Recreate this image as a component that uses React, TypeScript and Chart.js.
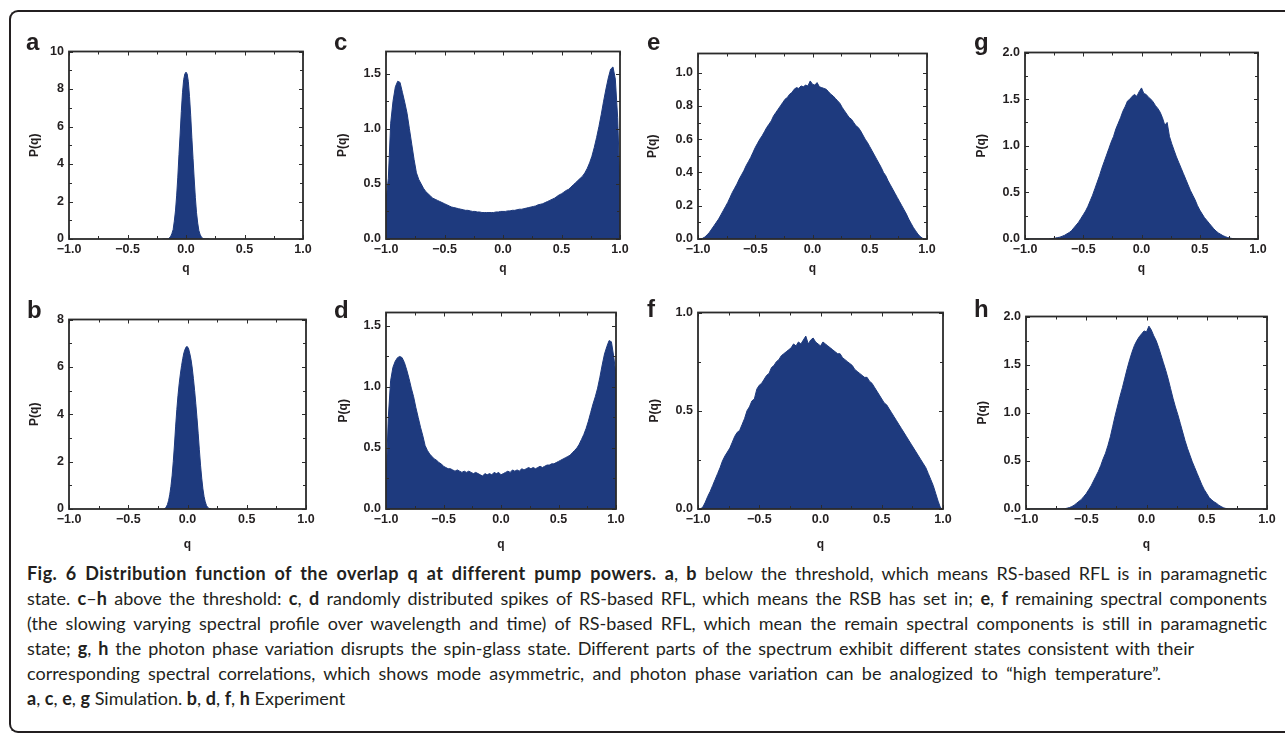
import React, { useEffect, useRef } from 'react';
import { Chart, registerables } from 'chart.js';

Chart.register(...registerables);

// ---------- DATA ----------
const Q_GRID = [
  -1, -0.98, -0.96, -0.94, -0.92, -0.9, -0.88, -0.86, -0.84, -0.82,
  -0.8, -0.78, -0.76, -0.74, -0.72, -0.7, -0.68, -0.66, -0.64, -0.62,
  -0.6, -0.58, -0.56, -0.54, -0.52, -0.5, -0.48, -0.46, -0.44, -0.42,
  -0.4, -0.38, -0.36, -0.34, -0.32, -0.3, -0.28, -0.26, -0.24, -0.22,
  -0.2, -0.18, -0.16, -0.14, -0.12, -0.1, -0.08, -0.06, -0.04, -0.02,
  0,
  0.02, 0.04, 0.06, 0.08, 0.1, 0.12, 0.14, 0.16, 0.18, 0.2,
  0.22, 0.24, 0.26, 0.28, 0.3, 0.32, 0.34, 0.36, 0.38, 0.4,
  0.42, 0.44, 0.46, 0.48, 0.5, 0.52, 0.54, 0.56, 0.58, 0.6,
  0.62, 0.64, 0.66, 0.68, 0.7, 0.72, 0.74, 0.76, 0.78, 0.8,
  0.82, 0.84, 0.86, 0.88, 0.9, 0.92, 0.94, 0.96, 0.98, 1,
];

const Q_NARROW = [
  -0.2, -0.19, -0.18, -0.17, -0.16, -0.15, -0.14, -0.13, -0.12, -0.11,
  -0.1, -0.09, -0.08, -0.07, -0.06, -0.05, -0.04, -0.03, -0.02, -0.01,
  0,
  0.01, 0.02, 0.03, 0.04, 0.05, 0.06, 0.07, 0.08, 0.09, 0.1,
  0.11, 0.12, 0.13, 0.14, 0.15, 0.16, 0.17, 0.18, 0.19, 0.2,
];

// a: simulation, below threshold
const P_A = [
  0, 0, 0, 0, 0, 0.02, 0.08, 0.15, 0.3, 0.5,
  0.95, 1.5, 2.3, 3.3, 4.5, 5.6, 6.8, 7.8, 8.5, 8.8,
  8.9,
  8.8, 8.4, 7.6, 6.6, 5.4, 4.3, 3.2, 2.2, 1.4, 0.85,
  0.45, 0.25, 0.12, 0.06, 0.02, 0, 0, 0, 0, 0,
];

// b: experiment, below threshold
const P_B = [
  0, 0.02, 0.08, 0.18, 0.35, 0.6, 0.95, 1.4, 2.0, 2.7,
  3.5, 4.2, 4.8, 5.3, 5.7, 6.05, 6.35, 6.6, 6.75, 6.85,
  6.85,
  6.75, 6.55, 6.3, 5.95, 5.5, 5.0, 4.45, 3.85, 3.2, 2.5,
  1.85, 1.3, 0.85, 0.52, 0.3, 0.15, 0.07, 0.03, 0.01, 0,
];

// c: simulation, spikes (RSB)
const P_C = [
  0.35, 0.55, 1.05, 1.25, 1.38, 1.43, 1.42, 1.33, 1.24, 1.14,
  1.0, 0.86, 0.72, 0.6, 0.54, 0.5, 0.46, 0.43, 0.41, 0.39,
  0.37, 0.36, 0.35, 0.34, 0.33, 0.32, 0.31, 0.3, 0.29, 0.285,
  0.28, 0.275, 0.27, 0.265, 0.26, 0.26, 0.255, 0.25, 0.25, 0.245,
  0.245, 0.24, 0.24, 0.24, 0.24, 0.24, 0.24, 0.245, 0.245, 0.25,
  0.25,
  0.25, 0.255, 0.255, 0.26, 0.26, 0.265, 0.27, 0.27, 0.275, 0.28,
  0.285, 0.29, 0.295, 0.3, 0.31, 0.315, 0.32, 0.33, 0.34, 0.35,
  0.36, 0.37, 0.385, 0.4, 0.41, 0.425, 0.44, 0.45, 0.47, 0.49,
  0.51, 0.53, 0.55, 0.57, 0.6, 0.64, 0.69, 0.75, 0.83, 0.92,
  1.02, 1.13, 1.25, 1.36, 1.46, 1.54, 1.56, 1.45, 1.1, 0.45,
];

// d: experiment, spikes (RSB)
const P_D = [
  0.2, 0.75, 1.05, 1.16, 1.21, 1.24, 1.25, 1.24, 1.2, 1.14,
  1.07, 0.99, 0.92, 0.83, 0.75, 0.67, 0.6, 0.52, 0.48, 0.45,
  0.43, 0.41, 0.4, 0.38, 0.37, 0.35, 0.34, 0.33, 0.33, 0.32,
  0.31, 0.32, 0.31, 0.3, 0.31, 0.3, 0.31, 0.3, 0.29, 0.3,
  0.29, 0.28, 0.27, 0.29, 0.28, 0.29, 0.28, 0.3, 0.29, 0.3,
  0.28,
  0.29, 0.3, 0.31, 0.3, 0.32, 0.31, 0.32, 0.31, 0.33, 0.32,
  0.33, 0.34, 0.33, 0.34, 0.33, 0.34, 0.35, 0.34, 0.35, 0.36,
  0.36, 0.37, 0.37, 0.38, 0.39, 0.4, 0.41, 0.42, 0.43, 0.44,
  0.46, 0.48, 0.5, 0.53, 0.57, 0.61, 0.66, 0.72, 0.79, 0.86,
  0.92, 0.99, 1.08, 1.18, 1.27, 1.33, 1.38, 1.37, 1.25, 1.1,
];

// e: simulation, remaining spectral components
const P_E = [
  0, 0, 0.004, 0.012, 0.025, 0.04, 0.06, 0.08, 0.1, 0.12,
  0.145, 0.17, 0.195, 0.22, 0.25, 0.28, 0.305, 0.33, 0.36, 0.385,
  0.41, 0.44, 0.465, 0.49, 0.52, 0.55, 0.575, 0.6, 0.62, 0.645,
  0.67, 0.69, 0.71, 0.74, 0.76, 0.78, 0.8, 0.82, 0.84, 0.85,
  0.87, 0.88, 0.9, 0.91, 0.905, 0.92, 0.915, 0.925, 0.92, 0.95,
  0.93,
  0.925, 0.94, 0.915, 0.91, 0.905, 0.9, 0.885, 0.87, 0.86, 0.845,
  0.83, 0.815, 0.79, 0.77, 0.75, 0.73, 0.72, 0.7, 0.68, 0.67,
  0.65, 0.625, 0.6, 0.58, 0.555, 0.53, 0.505, 0.48, 0.455, 0.43,
  0.4, 0.38, 0.35, 0.325, 0.3, 0.275, 0.25, 0.225, 0.2, 0.175,
  0.15, 0.12, 0.095, 0.07, 0.05, 0.03, 0.015, 0.005, 0, 0,
];

// f: experiment, remaining spectral components
const P_F = [
  0, 0, 0.01, 0.035, 0.065, 0.09, 0.12, 0.15, 0.18, 0.21,
  0.245, 0.27, 0.29, 0.31, 0.34, 0.37, 0.39, 0.4, 0.43, 0.46,
  0.5, 0.52, 0.55, 0.56, 0.61, 0.63, 0.64, 0.66, 0.68, 0.69,
  0.72, 0.73, 0.75, 0.76, 0.78, 0.79, 0.8, 0.81, 0.82, 0.84,
  0.83, 0.85, 0.84, 0.86, 0.88, 0.84, 0.86, 0.87, 0.85, 0.84,
  0.83,
  0.85, 0.84, 0.83, 0.82, 0.81, 0.8, 0.79, 0.79, 0.77, 0.76,
  0.75, 0.74, 0.73, 0.71, 0.7, 0.69, 0.68, 0.67, 0.67, 0.65,
  0.64, 0.62, 0.6, 0.58, 0.56, 0.54, 0.53, 0.51, 0.49, 0.47,
  0.45, 0.43, 0.41, 0.39, 0.37, 0.35, 0.33, 0.31, 0.29, 0.27,
  0.25, 0.23, 0.21, 0.18, 0.15, 0.12, 0.08, 0.04, 0.005, 0,
];

// g: simulation, photon phase variation
const P_G = [
  0, 0, 0, 0, 0, 0, 0, 0, 0, 0,
  0, 0.003, 0.006, 0.01, 0.015, 0.02, 0.03, 0.04, 0.055, 0.07,
  0.09, 0.12, 0.15, 0.18, 0.22, 0.26, 0.3, 0.35, 0.41, 0.47,
  0.54, 0.61, 0.68, 0.76, 0.83, 0.9, 0.97, 1.04, 1.1, 1.18,
  1.24, 1.3, 1.37, 1.42, 1.48, 1.5, 1.53, 1.55, 1.53, 1.58,
  1.62,
  1.56, 1.55, 1.52, 1.5, 1.47, 1.43, 1.4, 1.36, 1.3, 1.22,
  1.25, 1.1, 1.02, 0.95, 0.88, 0.82, 0.76, 0.7, 0.64, 0.58,
  0.52, 0.47, 0.42, 0.36, 0.31, 0.27, 0.23, 0.2, 0.17, 0.14,
  0.11, 0.085, 0.065, 0.05, 0.035, 0.025, 0.015, 0.01, 0.005, 0.002,
  0, 0, 0, 0, 0, 0, 0, 0, 0, 0,
];

// h: experiment, photon phase variation
const P_H = [
  0, 0, 0, 0, 0, 0, 0, 0, 0, 0,
  0, 0, 0, 0, 0, 0, 0.003, 0.008, 0.015, 0.025,
  0.04, 0.06, 0.08, 0.1, 0.13, 0.16, 0.2, 0.24, 0.29, 0.34,
  0.39, 0.45, 0.52, 0.58, 0.66, 0.75, 0.86, 0.97, 1.07, 1.17,
  1.26, 1.36, 1.46, 1.55, 1.63, 1.7, 1.75, 1.79, 1.82, 1.85,
  1.84,
  1.9, 1.86, 1.8, 1.75, 1.68, 1.6, 1.52, 1.44, 1.35, 1.25,
  1.15, 1.06, 0.98, 0.89, 0.8, 0.71, 0.63, 0.56, 0.49, 0.43,
  0.37, 0.31, 0.25, 0.2, 0.16, 0.12, 0.095, 0.075, 0.06, 0.04,
  0.025, 0.012, 0.005, 0, 0, 0, 0, 0, 0, 0,
  0, 0, 0, 0, 0, 0, 0, 0, 0, 0,
];

const X_TICKS = [-1, -0.5, 0, 0.5, 1];
const Y_TICKS_A = [0, 2, 4, 6, 8, 10];
const Y_TICKS_B = [0, 2, 4, 6, 8];
const Y_TICKS_CD = [0, 0.5, 1, 1.5];
const Y_TICKS_E = [0, 0.2, 0.4, 0.6, 0.8, 1];
const Y_TICKS_F = [0, 0.5, 1];
const Y_TICKS_GH = [0, 0.5, 1, 1.5, 2];

const X_TITLE = 'q';
const Y_TITLE = 'P(q)';

// ---------- STYLE ----------
const FILL = '#1e3a7e';
const INK = '#231f20';
const AXIS_FONT = '"Liberation Sans", Arial, Helvetica, sans-serif';
const LEFT_M = 60;
const TOP_M = 12;
const RIGHT_M = 12;
const BOTTOM_M = 45;

type Spec = {
  letter: string;
  q: number[];
  p: number[];
  yMax: number;
  yTicks: number[];
  decimals: number;
  box: { l: number; t: number; r: number; b: number };
  yTitlePad: number;
  xTitlePad: number;
  letterX: number;
  letterBase: number;
};

const PANELS: Spec[] = [
  { letter: 'a', q: Q_NARROW, p: P_A, yMax: 10, yTicks: Y_TICKS_A, decimals: 0, box: { l: 69, t: 51, r: 303, b: 239 }, yTitlePad: 18.8, xTitlePad: 7.8, letterX: 27, letterBase: 50 },
  { letter: 'c', q: Q_GRID, p: P_C, yMax: 1.7, yTicks: Y_TICKS_CD, decimals: 1, box: { l: 386, t: 51, r: 620, b: 239 }, yTitlePad: 9.8, xTitlePad: 7.8, letterX: 335, letterBase: 50 },
  { letter: 'e', q: Q_GRID, p: P_E, yMax: 1.115, yTicks: Y_TICKS_E, decimals: 1, box: { l: 698, t: 53, r: 927, b: 239 }, yTitlePad: 7.8, xTitlePad: 7.8, letterX: 648, letterBase: 50 },
  { letter: 'g', q: Q_GRID, p: P_G, yMax: 2, yTicks: Y_TICKS_GH, decimals: 1, box: { l: 1025, t: 52, r: 1258, b: 239 }, yTitlePad: 9.8, xTitlePad: 7.8, letterX: 975, letterBase: 50 },
  { letter: 'b', q: Q_NARROW, p: P_B, yMax: 8, yTicks: Y_TICKS_B, decimals: 0, box: { l: 69, t: 319, r: 306, b: 509 }, yTitlePad: 18.8, xTitlePad: 1.8, letterX: 28, letterBase: 318 },
  { letter: 'd', q: Q_GRID, p: P_D, yMax: 1.61, yTicks: Y_TICKS_CD, decimals: 1, box: { l: 386, t: 312, r: 616, b: 509 }, yTitlePad: 10.1, xTitlePad: 1.8, letterX: 335, letterBase: 318 },
  { letter: 'f', q: Q_GRID, p: P_F, yMax: 1, yTicks: Y_TICKS_F, decimals: 1, box: { l: 698, t: 312, r: 943, b: 509 }, yTitlePad: 9.8, xTitlePad: 1.8, letterX: 648, letterBase: 317 },
  { letter: 'h', q: Q_GRID, p: P_H, yMax: 2, yTicks: Y_TICKS_GH, decimals: 1, box: { l: 1026, t: 316, r: 1267, b: 509 }, yTitlePad: 9.5, xTitlePad: 1.8, letterX: 975, letterBase: 317 },
];

const fmt = (v: number, d: number) => v.toFixed(d).replace('-', '\u2212');

const mids = (arr: number[]) => {
  const out: number[] = [];
  for (let i = 0; i < arr.length - 1; i++) out.push((arr[i] + arr[i + 1]) / 2);
  return out;
};

const framePlugin = {
  id: 'boxFrame',
  afterDraw(chart: any) {
    const { ctx, chartArea, scales } = chart;
    const { left, top, right, bottom } = chartArea;
    const xs = scales.x;
    const ys = scales.y;
    const xMaj = xs.ticks.map((t: any) => t.value);
    const yMaj = ys.ticks.map((t: any) => t.value);
    ctx.save();
    ctx.strokeStyle = '#2b2b2b';
    ctx.lineWidth = 1;
    const line = (x1: number, y1: number, x2: number, y2: number) => {
      ctx.beginPath();
      ctx.moveTo(x1, y1);
      ctx.lineTo(x2, y2);
      ctx.stroke();
    };
    const drawX = (vals: number[], len: number) => {
      vals.forEach((v) => {
        const px = Math.round(xs.getPixelForValue(v)) + 0.5;
        line(px, bottom, px, bottom - len);
        line(px, top, px, top + len);
      });
    };
    const drawY = (vals: number[], len: number) => {
      vals.forEach((v) => {
        const py = Math.round(ys.getPixelForValue(v)) + 0.5;
        line(left, py, left + len, py);
        line(right, py, right - len, py);
      });
    };
    drawX(xMaj, 4);
    drawX(mids(xMaj), 3);
    drawY(yMaj, 4);
    drawY(mids(yMaj), 3);
    ctx.lineWidth = 1.8;
    ctx.strokeStyle = '#2b2b2b';
    ctx.strokeRect(left, top, right - left, bottom - top);
    ctx.restore();
  },
};

function Panel({ spec }: { spec: Spec }) {
  const ref = useRef<HTMLCanvasElement>(null);
  const w = spec.box.r - spec.box.l + LEFT_M + RIGHT_M;
  const h = spec.box.b - spec.box.t + TOP_M + BOTTOM_M;

  useEffect(() => {
    if (!ref.current) return;
    const tickFont = { family: AXIS_FONT, size: 12.5, weight: 'bold' as const };
    const titleFont = { family: AXIS_FONT, size: 12, weight: 'bold' as const };
    const chart = new Chart(ref.current, {
      type: 'line',
      data: {
        datasets: [
          {
            data: spec.q.map((q, i) => ({ x: q, y: spec.p[i] })),
            fill: 'origin',
            backgroundColor: FILL,
            borderColor: FILL,
            borderWidth: 1,
            pointRadius: 0,
            tension: 0,
          },
        ],
      },
      options: {
        animation: false,
        responsive: false,
        maintainAspectRatio: false,
        events: [],
        layout: { padding: { top: TOP_M, right: RIGHT_M, left: 0, bottom: 0 } },
        plugins: { legend: { display: false }, tooltip: { enabled: false } },
        scales: {
          x: {
            type: 'linear',
            min: -1,
            max: 1,
            afterBuildTicks: (scale: any) => {
              scale.ticks = X_TICKS.map((v) => ({ value: v }));
            },
            afterFit: (scale: any) => {
              scale.height = BOTTOM_M;
            },
            grid: { display: false, drawTicks: false },
            border: { display: false },
            ticks: {
              font: tickFont,
              color: INK,
              padding: 3,
              maxRotation: 0,
              autoSkip: false,
              callback: (v: any) => fmt(Number(v), 1),
            },
            title: {
              display: true,
              text: X_TITLE,
              font: titleFont,
              color: INK,
              padding: { top: 0, bottom: spec.xTitlePad },
            },
          },
          y: {
            type: 'linear',
            min: 0,
            max: spec.yMax,
            afterBuildTicks: (scale: any) => {
              scale.ticks = spec.yTicks.map((v) => ({ value: v }));
            },
            afterFit: (scale: any) => {
              scale.width = LEFT_M;
            },
            grid: { display: false, drawTicks: false },
            border: { display: false },
            ticks: {
              font: tickFont,
              color: INK,
              padding: 5,
              autoSkip: false,
              callback: (v: any) => fmt(Number(v), spec.decimals),
            },
            title: {
              display: true,
              text: Y_TITLE,
              font: titleFont,
              color: INK,
              padding: { top: spec.yTitlePad, bottom: 0 },
            },
          },
        },
      },
      plugins: [framePlugin],
    } as any);
    return () => chart.destroy();
  }, [spec]);

  return (
    <>
      <canvas
        ref={ref}
        width={w}
        height={h}
        style={{ position: 'absolute', left: spec.box.l - LEFT_M, top: spec.box.t - TOP_M, width: w, height: h }}
      />
      <div
        style={{
          position: 'absolute',
          left: spec.letterX - 1,
          top: spec.letterBase - 20.3,
          font: `bold 24px/24px ${AXIS_FONT}`,
          color: INK,
        }}
      >
        {spec.letter}
      </div>
    </>
  );
}

const CAPTION_FONT = 'Lato, "Open Sans", sans-serif';

export default function App() {
  const lineStyle: React.CSSProperties = {
    height: 25,
    lineHeight: '25px',
    whiteSpace: 'nowrap',
    textAlign: 'justify',
    textAlignLast: 'justify' as any,
  };
  const leftStyle: React.CSSProperties = { ...lineStyle, textAlign: 'left', textAlignLast: 'left' as any };
  return (
    <div
      style={{
        position: 'absolute',
        left: 0,
        top: 0,
        width: 1285,
        height: 738,
        background: '#fff',
        overflow: 'hidden',
      }}
    >
      <div
        style={{
          position: 'absolute',
          left: 9,
          top: 10,
          width: 1300,
          height: 723,
          borderTop: `2px solid ${INK}`,
          borderLeft: `2px solid ${INK}`,
          borderBottom: `2px solid ${INK}`,
          borderRadius: '9px 0 0 9px',
          boxSizing: 'border-box',
        }}
      />
      {PANELS.map((s) => (
        <Panel key={s.letter} spec={s} />
      ))}
      <div
        style={{
          position: 'absolute',
          left: 27,
          top: 561,
          width: 1240,
          fontFamily: CAPTION_FONT,
          fontSize: 18,
          color: INK,
        }}
      >
        <div style={lineStyle}>
          <b style={{ letterSpacing: '0.45px' }}>
            Fig. 6 Distribution function of the overlap q at different pump powers.
          </b>{' '}
          <b>a</b>, <b>b</b> below the threshold, which means RS-based RFL is in paramagnetic
        </div>
        <div style={lineStyle}>
          state. <b>c</b>–<b>h</b> above the threshold: <b>c</b>, <b>d</b> randomly distributed spikes of RS-based RFL,
          which means the RSB has set in; <b>e</b>, <b>f</b> remaining spectral components
        </div>
        <div style={lineStyle}>
          (the slowing varying spectral profile over wavelength and time) of RS-based RFL, which mean the remain spectral
          components is still in paramagnetic
        </div>
        <div style={{ ...lineStyle, width: 1167 }}>
          state; <b>g</b>, <b>h</b> the photon phase variation disrupts the spin-glass state. Different parts of the
          spectrum exhibit different states consistent with their
        </div>
        <div style={{ ...lineStyle, width: 1134 }}>
          corresponding spectral correlations, which shows mode asymmetric, and photon phase variation can be analogized
          to “high temperature”.
        </div>
        <div style={leftStyle}>
          <b>a</b>, <b>c</b>, <b>e</b>, <b>g</b> Simulation. <b>b</b>, <b>d</b>, <b>f</b>, <b>h</b> Experiment
        </div>
      </div>
    </div>
  );
}
